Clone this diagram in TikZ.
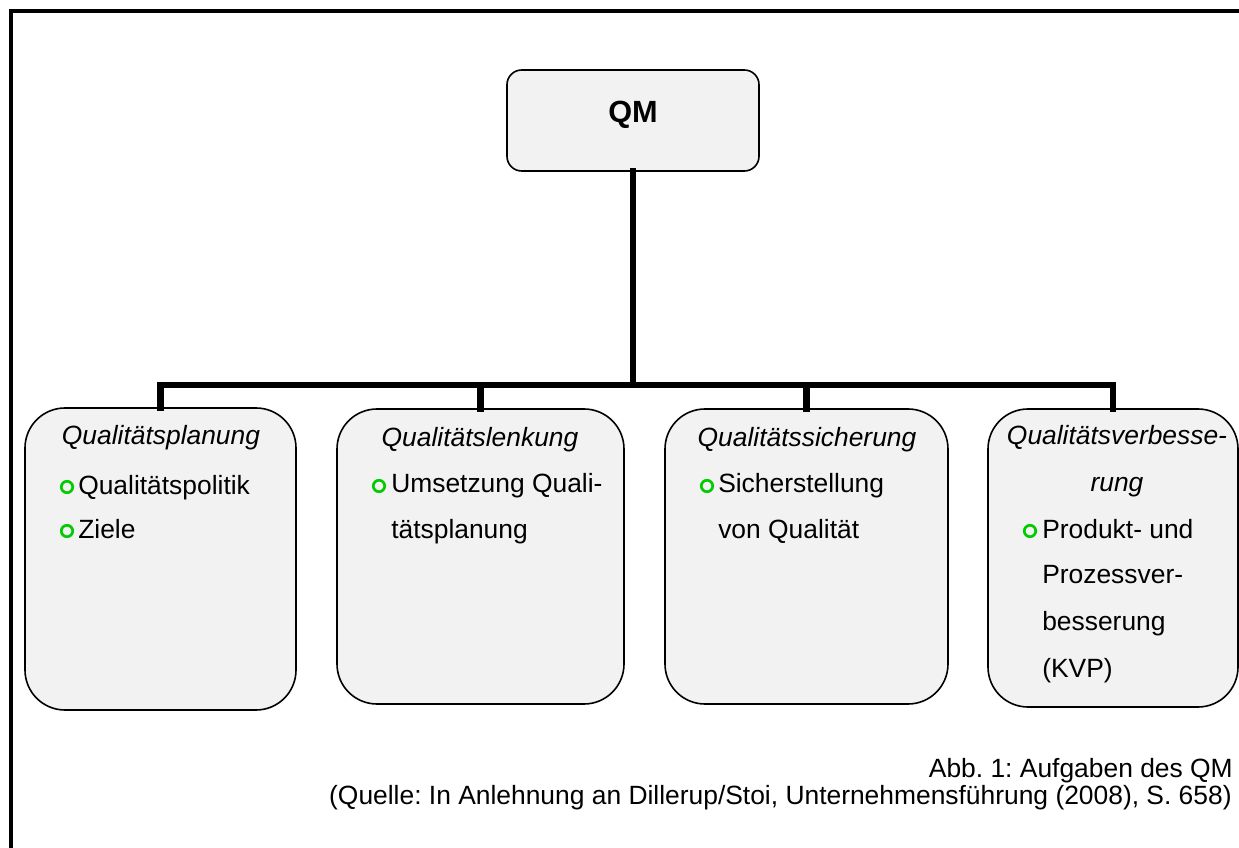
\documentclass[tikz,border=0pt]{standalone}
\usepackage{fontspec}
\setmainfont{Liberation Sans}
\frenchspacing
\definecolor{boxfill}{RGB}{242,242,242}
\definecolor{ringgreen}{RGB}{0,204,0}
\begin{document}
\begin{tikzpicture}[x=0.75pt,y=-0.75pt,
  box/.style={draw=black,line width=1.2pt,fill=boxfill,rounded corners=30pt,
    inner sep=0pt,outer sep=0pt,rectangle},
  topbox/.style={box,rounded corners=11pt},
  conn/.style={line width=4.6pt,line cap=rect},
  frame/.style={line width=3pt},
  ringmark/.style={circle,draw=ringgreen,line width=2pt,minimum size=8.6pt,inner sep=0pt},
  title/.style={font=\fontsize{19.8}{24}\selectfont\itshape,inner sep=0pt,anchor=base},
  body/.style={font=\fontsize{19.8}{24}\selectfont,inner sep=0pt,anchor=base west},
  caption/.style={font=\fontsize{19.8}{24}\selectfont,inner sep=0pt,anchor=base east}]
\useasboundingbox (0,0) rectangle (1239,848);

% outer frame (open to the right and bottom)
\coordinate (fbl) at (11,848);
\coordinate (ftl) at (11,11);
\coordinate (ftr) at (1239,11);
\draw[frame] (fbl) -- (ftl) -- (ftr);

% top box
\node[topbox,minimum width={252*0.75pt},minimum height={101*0.75pt}] (qm) at (633,120.5) {};
\node[inner sep=0pt,anchor=base,font=\fontsize{23}{28}\selectfont\bfseries] (qmtext) at (633,123) {QM};

% task boxes
\node[box,minimum width={271*0.75pt},minimum height={302*0.75pt}] (b1) at (160.5,559) {};
\node[box,minimum width={287*0.75pt},minimum height={295*0.75pt}] (b2) at (480.5,556.5) {};
\node[box,minimum width={283*0.75pt},minimum height={295*0.75pt}] (b3) at (806.5,556.5) {};
\node[box,minimum width={250*0.75pt},minimum height={298*0.75pt}] (b4) at (1113,558) {};

% tree connectors
\coordinate (bar) at (633,385);
\draw[conn] (qm.south) -- (qm.south |- bar);
\draw[conn] (b1.north |- bar) -- (b4.north |- bar);
\foreach \b in {b1,b2,b3,b4}
  \draw[conn] (\b.north |- bar) -- (\b.north);

% box 1
\node[title] (t1) at (161,445) {Qualitätsplanung};
\node[ringmark] (r11) at (67,487) {};
\node[body] (p11) at (78,494) {Qualitätspolitik};
\node[ringmark] (r12) at (67,531) {};
\node[body] (p12) at (78,538) {Ziele};

% box 2
\node[title] (t2) at (480,447) {Qualitätslenkung};
\node[ringmark] (r21) at (379,486) {};
\node[body] (p21) at (391,493) {Umsetzung Quali-};
\node[body] (p22) at (391,538) {tätsplanung};

% box 3
\node[title] (t3) at (807,447) {Qualitätssicherung};
\node[ringmark] (r31) at (707,486) {};
\node[body] (p31) at (718,493) {Sicherstellung};
\node[body] (p32) at (718,538) {von Qualität};

% box 4
\node[title] (t4a) at (1117,445) {Qualitätsverbesse-};
\node[title] (t4b) at (1117,492) {rung};
\node[ringmark] (r41) at (1030,531) {};
\node[body] (p41) at (1042,538) {Produkt- und};
\node[body] (p42) at (1042,583) {Prozessver-};
\node[body] (p43) at (1042,630) {besserung};
\node[body] (p44) at (1042,677) {(KVP)};

% caption
\node[caption] (cap1) at (1233,777) {Abb. 1: Aufgaben des QM};
\node[caption] (cap2) at (1232,804) {(Quelle: In Anlehnung an Dillerup/Stoi, Unternehmensführung (2008), S. 658)};
\end{tikzpicture}
\end{document}
